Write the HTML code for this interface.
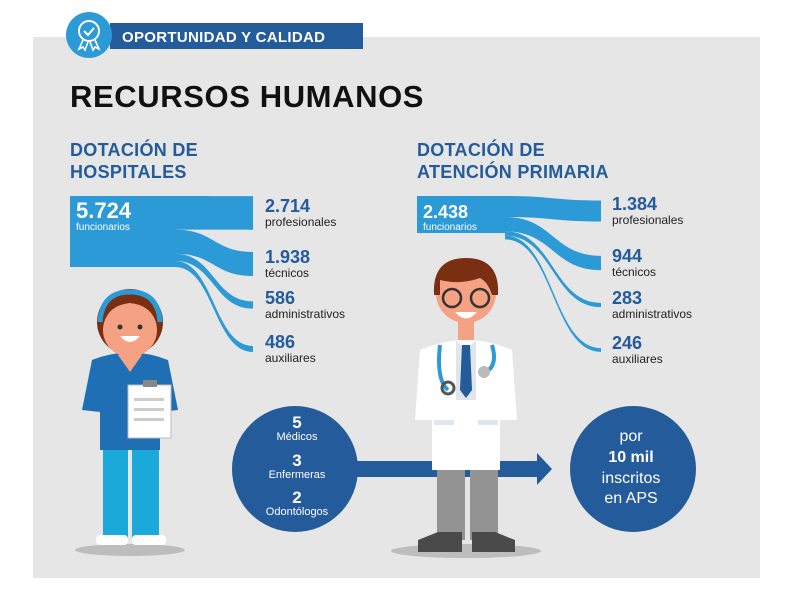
<!DOCTYPE html>
<html><head><meta charset="utf-8">
<style>
body{margin:0;width:792px;height:612px;background:#fff;font-family:"Liberation Sans",sans-serif;overflow:hidden;position:relative}
svg{position:absolute;left:0;top:0}
</style></head>
<body>
<svg width="792" height="612" viewBox="0 0 792 612" id="chart">
  <rect x="33" y="37" width="727" height="541" fill="#e6e6e6"/>
  <rect x="110" y="23" width="253" height="26" fill="#245b9b"/>
  <text x="122" y="42" fill="#fff" font-size="15" font-weight="bold" letter-spacing="0.3">OPORTUNIDAD Y CALIDAD</text>
  <g>
    <circle cx="89" cy="35" r="23" fill="#2b9ad6"/>
    <circle cx="89" cy="31" r="10" fill="none" stroke="#fff" stroke-width="2"/>
    <path d="M84 31 l4 4 l6 -7" fill="none" stroke="#fff" stroke-width="2"/>
    <path d="M83 40 l-4 9 l4 -2 l2 3 l3 -8 M95 40 l4 9 l-4 -2 l-2 3 l-3 -8" fill="none" stroke="#fff" stroke-width="1.6"/>
  </g>
  <text x="70" y="107" fill="#111" font-size="31" font-weight="bold" letter-spacing="0.6">RECURSOS HUMANOS</text>
  <text x="70" y="156" fill="#245b9b" font-size="18" font-weight="bold" letter-spacing="0.3">DOTACIÓN DE</text>
  <text x="70" y="178" fill="#245b9b" font-size="18" font-weight="bold" letter-spacing="0.3">HOSPITALES</text>
  <text x="417" y="156" fill="#245b9b" font-size="18" font-weight="bold" letter-spacing="0.3">DOTACIÓN DE</text>
  <text x="417" y="178" fill="#245b9b" font-size="18" font-weight="bold" letter-spacing="0.3">ATENCIÓN PRIMARIA</text>
  <g id="sankeys"></g>

  <!-- Nurse -->
  <g>
    <ellipse cx="130" cy="550" rx="55" ry="6" fill="#bdbdbd"/>
    <rect x="103" y="440" width="25" height="100" fill="#1aa9d8"/>
    <rect x="132" y="440" width="27" height="100" fill="#1aa9d8"/>
    <rect x="96" y="535" width="32" height="10" rx="4" fill="#fff"/>
    <rect x="132" y="535" width="34" height="10" rx="4" fill="#fff"/>
    <path d="M92 360 Q130 345 168 360 L178 410 L160 412 L160 450 L100 450 L100 412 L82 410 Z" fill="#1f6fb5"/>
    <path d="M118 355 L130 372 L142 355 Z" fill="#f4a283"/>
    <rect x="122" y="340" width="16" height="18" fill="#f4a283"/>
    <circle cx="130" cy="322" r="33" fill="#7a2e12"/>
    <circle cx="130" cy="330" r="27" fill="#f4a283"/>
    <path d="M103 322 Q105 295 130 295 Q155 295 157 322 Q150 305 130 303 Q110 305 103 322Z" fill="#7a2e12"/>
    <path d="M100 322 Q102 292 130 292 Q158 292 160 322" fill="none" stroke="#2b9ad6" stroke-width="5"/>
    <circle cx="120" cy="327" r="2.5" fill="#333"/><circle cx="140" cy="327" r="2.5" fill="#333"/>
    <path d="M120 336 Q130 348 140 336 Z" fill="#fff"/>
    <rect x="128" y="385" width="43" height="53" fill="#fff" stroke="#bbb"/>
    <rect x="143" y="380" width="14" height="7" fill="#888"/>
    <rect x="134" y="398" width="30" height="3" fill="#ccc"/><rect x="134" y="408" width="30" height="3" fill="#ccc"/><rect x="134" y="418" width="30" height="3" fill="#ccc"/>
  </g>

  <!-- ratio arrow (behind doctor) -->
  <g>
    <rect x="350" y="461" width="190" height="16" fill="#245b9b"/>
    <path d="M537 453 L552 469 L537 485Z" fill="#245b9b"/>
  </g>

  <!-- Doctor -->
  <g>
    <ellipse cx="466" cy="551" rx="75" ry="7" fill="#bdbdbd"/>
    <rect x="437" y="465" width="28" height="75" fill="#939393"/>
    <rect x="470" y="465" width="28" height="75" fill="#939393"/>
    <path d="M418 540 L438 532 L462 532 L462 552 L418 552Z" fill="#4a4a4a"/>
    <path d="M472 532 L495 532 L515 540 L515 552 L472 552Z" fill="#4a4a4a"/>
    <path d="M420 350 Q466 330 512 350 L517 420 L500 420 L500 470 L432 470 L432 420 L415 420 Z" fill="#fff"/>
    <path d="M456 340 L466 350 L476 340 L476 400 L456 400Z" fill="#dfe6ee"/>
    <path d="M462 345 L470 345 L472 390 L466 398 L460 390Z" fill="#245b9b"/>
    <path d="M440 345 Q436 380 448 390 M492 345 Q498 365 486 372" fill="none" stroke="#2b9ad6" stroke-width="4"/>
    <circle cx="448" cy="388" r="6" fill="none" stroke="#555" stroke-width="3"/>
    <circle cx="484" cy="372" r="6" fill="#bbb"/>
    <rect x="434" y="420" width="20" height="5" fill="#dfe6ee"/><rect x="478" y="420" width="20" height="5" fill="#dfe6ee"/>
    <rect x="458" y="315" width="16" height="25" fill="#f4a283"/>
    <circle cx="466" cy="293" r="30" fill="#f4a283"/>
    <path d="M434 295 Q432 258 466 258 Q500 258 498 295 L492 295 Q488 282 480 278 Q460 285 440 280 L440 295Z" fill="#7a2e12"/>
    <circle cx="452" cy="298" r="9" fill="none" stroke="#333" stroke-width="2.5"/>
    <circle cx="480" cy="298" r="9" fill="none" stroke="#333" stroke-width="2.5"/>
    <path d="M455 312 Q466 325 477 312Z" fill="#fff"/>
  </g>

  <circle cx="295" cy="469" r="63" fill="#245b9b"/>
  <g fill="#fff" text-anchor="middle">
    <text x="297" y="428" font-size="17" font-weight="bold">5</text>
    <text x="297" y="440" font-size="11">Médicos</text>
    <text x="297" y="466" font-size="17" font-weight="bold">3</text>
    <text x="297" y="478" font-size="11">Enfermeras</text>
    <text x="297" y="503" font-size="17" font-weight="bold">2</text>
    <text x="297" y="515" font-size="11">Odontólogos</text>
  </g>
  <circle cx="633" cy="469" r="63" fill="#245b9b"/>
  <g fill="#fff" text-anchor="middle">
    <text x="631" y="441" font-size="16">por</text>
    <text x="631" y="462" font-size="16" font-weight="bold">10 mil</text>
    <text x="631" y="483" font-size="16">inscritos</text>
    <text x="631" y="503" font-size="16">en APS</text>
  </g>
</svg>
<script>
const categories = ["profesionales","técnicos","administrativos","auxiliares"];
const hospitalTotal = 5724;
const hospitalValues = [2714, 1938, 586, 486];
const hospitalLabels = ["2.714","1.938","586","486"];
const apsTotal = 2438;
const apsValues = [1384, 944, 283, 246];
const apsLabels = ["1.384","944","283","246"];

const NS = "http://www.w3.org/2000/svg";
const root = document.getElementById("sankeys");
function mk(tag, attrs){const e=document.createElementNS(NS,tag);for(const k in attrs)e.setAttribute(k,attrs[k]);return e;}

function drawSankey(cfg, total, values, labels, totalLabel){
  const scale = cfg.h / total;
  const g = mk("g",{});
  
  
  root.appendChild(g);
  let sy = cfg.y;
  const targets = cfg.targets;
  values.forEach((v,i)=>{
    const w = Math.max(v*scale, 2.5);
    const ty = targets[i] - w/2;
    const x0 = cfg.splitX, x1 = cfg.endX;
    const mx = (x0 + x1)/2;
    const d = `M${x0} ${sy} C${mx} ${sy} ${mx} ${ty} ${x1} ${ty} L${x1} ${ty+w} C${mx} ${ty+w} ${mx} ${sy+w} ${x0} ${sy+w} Z`;
    const p = mk("path",{d:d, fill:"#2b9ad6"});
    
    
    g.appendChild(p);
    const t1 = mk("text",{x:cfg.labelX, y:targets[i]-1, fill:"#245b9b","font-size":18,"font-weight":"bold"});
    t1.textContent = labels[i];
    
    
    g.appendChild(t1);
    const t2 = mk("text",{x:cfg.labelX, y:targets[i]+13, fill:"#222","font-size":12});
    t2.textContent = categories[i];
    
    
    g.appendChild(t2);
    sy += v*scale;
  });
  const r = mk("rect",{x:cfg.x, y:cfg.y, width:cfg.splitX-cfg.x+1, height:total*scale, fill:"#2b9ad6"});
  
  
  g.appendChild(r);
  const tt = mk("text",{x:cfg.x+6, y:cfg.y+22, fill:"#fff","font-size":cfg.big,"font-weight":"bold"});
  tt.textContent = totalLabel;
  
  
  g.appendChild(tt);
  const tf = mk("text",{x:cfg.x+6, y:cfg.y+34, fill:"#fff","font-size":10});
  tf.textContent = "funcionarios";
  
  
  g.appendChild(tf);
}
drawSankey({name:"hospital-sankey",x:70,y:196,h:71,splitX:175,endX:253,labelX:265,targets:[213,264,305,349],big:22},
  hospitalTotal, hospitalValues, hospitalLabels, "5.724");
drawSankey({name:"aps-sankey",x:417,y:196,h:37,splitX:505,endX:601,labelX:612,targets:[211,263,305,350],big:18},
  apsTotal, apsValues, apsLabels, "2.438");
</script>
</body></html>
